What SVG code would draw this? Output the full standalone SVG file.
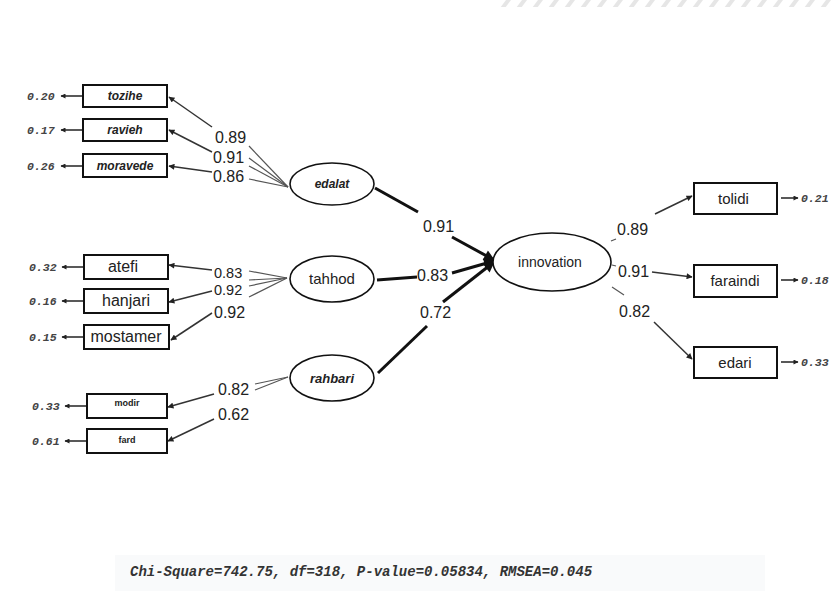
<svg xmlns="http://www.w3.org/2000/svg" width="833" height="593" viewBox="0 0 833 593">
<defs>
<marker id="ah" viewBox="0 0 10 10" refX="9" refY="5" markerWidth="8" markerHeight="6" markerUnits="userSpaceOnUse" orient="auto"><path d="M0,0 L10,5 L0,10 z" fill="#222"/></marker>
<marker id="ahs" viewBox="0 0 10 10" refX="9" refY="5" markerWidth="7" markerHeight="5" markerUnits="userSpaceOnUse" orient="auto"><path d="M0,0 L10,5 L0,10 z" fill="#222"/></marker>
<marker id="ahb" viewBox="0 0 10 10" refX="9" refY="5" markerWidth="14" markerHeight="11" markerUnits="userSpaceOnUse" orient="auto"><path d="M0,0 L10,5 L0,10 z" fill="#111"/></marker>
<pattern id="hatch" width="16" height="8" patternUnits="userSpaceOnUse"><path d="M4,8 L10,0 L15,0 L9,8 z" fill="#e6e6e6"/></pattern>
</defs>
<style>
.box{fill:#fff;stroke:#111;stroke-width:2}
.ell{fill:#fff;stroke:#111;stroke-width:1.6}
.ml{fill:none;stroke:#333;stroke-width:1.5;marker-end:url(#ah)}
.cv{fill:none;stroke:#555;stroke-width:1.2}
.sc{fill:none;stroke:#111;stroke-width:3}
.sp{fill:none;stroke:#111;stroke-width:3;marker-end:url(#ahb)}
.err{fill:none;stroke:#222;stroke-width:1.5;marker-end:url(#ahs)}
.lab{font-family:"Liberation Sans",Arial,sans-serif;font-size:16px;fill:#222}
.ev{font-family:"Liberation Mono","Courier New",monospace;font-size:11.5px;font-style:italic;font-weight:bold;fill:#444}
.bi{font-family:"Liberation Sans",Arial,sans-serif;font-size:12px;font-style:italic;font-weight:bold;fill:#222;text-anchor:middle}
.rg{font-family:"Liberation Sans",Arial,sans-serif;font-size:16px;fill:#222;text-anchor:middle}
.sm{font-family:"Liberation Sans",Arial,sans-serif;font-size:9px;font-weight:bold;fill:#222;text-anchor:middle}
.fit{font-family:"Liberation Mono","Courier New",monospace;font-size:14px;font-style:italic;font-weight:bold;fill:#333}
</style>
<rect width="833" height="593" fill="#fff"/>
<rect x="500" y="0" width="333" height="7" fill="url(#hatch)"/>
<rect x="115" y="555" width="650" height="36" fill="#f9fafb"/>

<g id="connectors">
  <!-- edalat measurement -->
  <line class="cv" x1="288" y1="187" x2="249" y2="146"/>
  <line class="cv" x1="288" y1="187" x2="249" y2="158"/>
  <line class="cv" x1="288" y1="187" x2="249" y2="166"/>
  <line class="cv" x1="288" y1="187" x2="249" y2="179"/>
  <line class="ml" x1="212" y1="127" x2="169" y2="97"/>
  <line class="ml" x1="212" y1="152" x2="169" y2="130"/>
  <line class="ml" x1="212" y1="172" x2="169" y2="166"/>
  <!-- tahhod measurement -->
  <line class="cv" x1="287" y1="278" x2="249" y2="271"/>
  <line class="cv" x1="287" y1="278" x2="249" y2="280"/>
  <line class="cv" x1="287" y1="278" x2="249" y2="286"/>
  <line class="cv" x1="287" y1="278" x2="249" y2="297"/>
  <line class="ml" x1="212" y1="270" x2="169" y2="265"/>
  <line class="ml" x1="212" y1="291" x2="169" y2="302"/>
  <line class="ml" x1="212" y1="313" x2="171" y2="340"/>
  <!-- rahbari measurement -->
  <line class="cv" x1="288" y1="377" x2="255" y2="384"/>
  <line class="cv" x1="288" y1="377" x2="255" y2="390"/>
  <line class="ml" x1="214" y1="394" x2="168" y2="407"/>
  <line class="ml" x1="214" y1="419" x2="168" y2="441"/>
  <!-- structural -->
  <line class="sc" x1="375" y1="188" x2="418" y2="212"/>
  <line class="sp" x1="452" y1="237" x2="494" y2="260"/>
  <line class="sc" x1="377" y1="280" x2="417" y2="277"/>
  <line class="sp" x1="452" y1="273" x2="494" y2="261"/>
  <line class="sc" x1="378" y1="373" x2="427" y2="326"/>
  <line class="sp" x1="443" y1="302" x2="494" y2="262"/>
  <!-- innovation indicators -->
  <line class="cv" x1="611" y1="241" x2="616" y2="239"/>
  <line class="ml" x1="655" y1="214" x2="692" y2="196"/>
  <line class="cv" x1="612" y1="265" x2="616" y2="266"/>
  <line class="ml" x1="652" y1="272" x2="692" y2="277"/>
  <line class="cv" x1="612" y1="287" x2="624" y2="295"/>
  <line class="ml" x1="654" y1="322" x2="692" y2="359"/>
  <!-- errors left -->
  <line class="err" x1="82" y1="96" x2="61" y2="96"/>
  <line class="err" x1="82" y1="130" x2="61" y2="130"/>
  <line class="err" x1="82" y1="166" x2="61" y2="166"/>
  <line class="err" x1="83" y1="267" x2="62" y2="267"/>
  <line class="err" x1="83" y1="301" x2="62" y2="301"/>
  <line class="err" x1="83" y1="337" x2="62" y2="337"/>
  <line class="err" x1="86" y1="406" x2="65" y2="406"/>
  <line class="err" x1="86" y1="441" x2="65" y2="441"/>
  <!-- errors right -->
  <line class="err" x1="781" y1="198" x2="798" y2="198"/>
  <line class="err" x1="781" y1="280" x2="798" y2="280"/>
  <line class="err" x1="781" y1="362" x2="798" y2="362"/>
</g>

<g id="labels">
  <text class="lab" x="215" y="143">0.89</text>
  <text class="lab" x="213" y="163">0.91</text>
  <text class="lab" x="213" y="182">0.86</text>
  <text class="lab" x="214" y="278" style="font-size:14.5px">0.83</text>
  <text class="lab" x="214" y="295" style="font-size:14.5px">0.92</text>
  <text class="lab" x="214" y="318">0.92</text>
  <text class="lab" x="218" y="395">0.82</text>
  <text class="lab" x="218" y="420">0.62</text>
  <text class="lab" x="423" y="232">0.91</text>
  <text class="lab" x="417" y="281">0.83</text>
  <text class="lab" x="420" y="318">0.72</text>
  <text class="lab" x="617" y="235">0.89</text>
  <text class="lab" x="618" y="277">0.91</text>
  <text class="lab" x="619" y="317">0.82</text>
</g>

<g id="tozihe"><rect class="box" x="83" y="85" width="84" height="22"/><text class="bi" x="125" y="100">tozihe</text><text class="ev" x="27" y="100">0.20</text></g>
<g id="ravieh"><rect class="box" x="83" y="119" width="84" height="22"/><text class="bi" x="125" y="134">ravieh</text><text class="ev" x="27" y="134">0.17</text></g>
<g id="moravede"><rect class="box" x="83" y="154" width="84" height="23"/><text class="bi" x="125" y="170">moravede</text><text class="ev" x="27" y="170">0.26</text></g>

<g id="atefi"><rect class="box" x="84" y="255" width="84" height="24"/><text class="rg" x="123" y="272">atefi</text><text class="ev" x="29" y="271">0.32</text></g>
<g id="hanjari"><rect class="box" x="84" y="289" width="84" height="24"/><text class="rg" x="126" y="306">hanjari</text><text class="ev" x="29" y="305">0.16</text></g>
<g id="mostamer"><rect class="box" x="84" y="325" width="85" height="24"/><text class="rg" x="126" y="342">mostamer</text><text class="ev" x="29" y="341">0.15</text></g>

<g id="modir"><rect class="box" x="87" y="394" width="80" height="24"/><text class="sm" x="127" y="406">modir</text><text class="ev" x="32" y="410">0.33</text></g>
<g id="fard"><rect class="box" x="87" y="429" width="80" height="24"/><text class="sm" x="127" y="443">fard</text><text class="ev" x="32" y="445">0.61</text></g>

<g id="edalat"><ellipse class="ell" cx="332" cy="184" rx="42" ry="21"/><text class="bi" x="332" y="188">edalat</text></g>
<g id="tahhod"><ellipse class="ell" cx="332" cy="279" rx="42" ry="23"/><text class="rg" x="332" y="284" style="font-size:15px">tahhod</text></g>
<g id="rahbari"><ellipse class="ell" cx="332" cy="378" rx="42" ry="23"/><text class="bi" x="332" y="383" style="font-size:13px">rahbari</text></g>
<g id="innovation"><ellipse class="ell" cx="552" cy="262" rx="59" ry="29"/><text class="rg" x="550" y="267" style="font-size:14px">innovation</text></g>

<g id="tolidi"><rect class="box" x="694" y="183" width="83" height="31"/><text class="rg" x="718" y="204" style="font-size:15px;text-anchor:start">tolidi</text><text class="ev" x="801" y="202">0.21</text></g>
<g id="faraindi"><rect class="box" x="694" y="265" width="83" height="32"/><text class="rg" x="735" y="286" style="font-size:15px">faraindi</text><text class="ev" x="801" y="284">0.18</text></g>
<g id="edari"><rect class="box" x="694" y="347" width="83" height="31"/><text class="rg" x="735" y="368" style="font-size:15px">edari</text><text class="ev" x="801" y="366">0.33</text></g>

<text class="fit" x="130" y="576">Chi-Square=742.75, df=318, P-value=0.05834, RMSEA=0.045</text>
</svg>
